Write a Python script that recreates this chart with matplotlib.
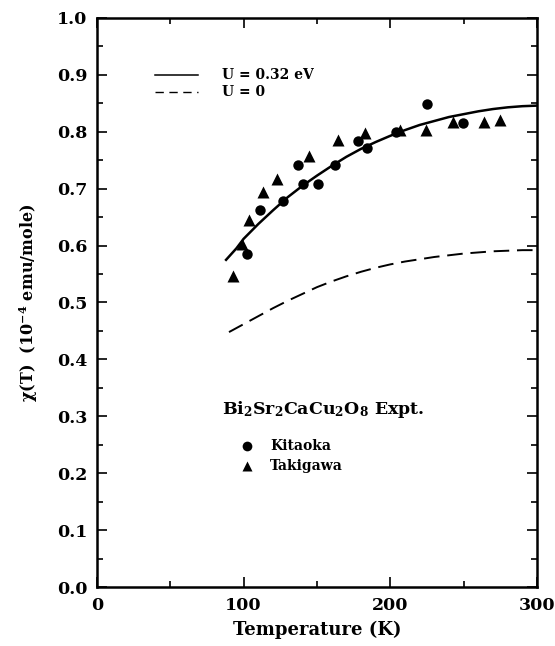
import matplotlib
matplotlib.use("Agg")
import matplotlib.pyplot as plt
from matplotlib.ticker import MultipleLocator

plt.rcParams["font.family"] = "DejaVu Serif"
plt.rcParams["font.weight"] = "bold"
plt.rcParams["axes.labelweight"] = "bold"
plt.rcParams["mathtext.fontset"] = "custom"
plt.rcParams["mathtext.rm"] = "DejaVu Serif:bold"
plt.rcParams["mathtext.bf"] = "DejaVu Serif:bold"
plt.rcParams["mathtext.default"] = "rm"

# U = 0.32 eV calculation
u032_t = [88, 95, 100, 110, 120, 130, 140, 150, 160, 170, 180, 190, 200,
          210, 220, 230, 240, 250, 260, 270, 280, 290, 300]
u032_chi = [0.575, 0.595, 0.612, 0.638, 0.662, 0.685, 0.705, 0.723, 0.740,
            0.756, 0.770, 0.782, 0.793, 0.803, 0.812, 0.819, 0.826, 0.831,
            0.836, 0.840, 0.843, 0.845, 0.846]

# U = 0 calculation
u0_t = [90, 100, 110, 120, 130, 140, 150, 160, 170, 180, 190, 200, 210,
        220, 230, 240, 250, 260, 270, 280, 290, 300]
u0_chi = [0.448, 0.462, 0.476, 0.490, 0.503, 0.515, 0.527, 0.537, 0.546,
          0.554, 0.561, 0.567, 0.572, 0.576, 0.580, 0.583, 0.586, 0.588,
          0.590, 0.591, 0.592, 0.592]

# experiment
kitaoka_t = [102.5, 111, 127, 137, 140.5, 151, 162, 178, 184, 204, 225, 249.5]
kitaoka_chi = [0.585, 0.663, 0.679, 0.741, 0.709, 0.709, 0.741, 0.783,
               0.771, 0.800, 0.848, 0.815]

takigawa_t = [92.5, 98.6, 103.9, 113.4, 123, 144.5, 164, 183, 206.6, 224,
              243, 264, 275]
takigawa_chi = [0.547, 0.603, 0.645, 0.694, 0.717, 0.757, 0.785, 0.798,
                0.803, 0.804, 0.817, 0.817, 0.820]

fig = plt.figure(figsize=(5.55, 6.46), dpi=100)
ax = fig.add_axes([97 / 555, 1 - 587 / 646, 440 / 555, 569 / 646])

ax.plot(u032_t, u032_chi, color="black", lw=1.8)
ax.plot(u0_t, u0_chi, color="black", lw=1.4, dashes=(8, 4))
ax.plot(kitaoka_t, kitaoka_chi, "o", color="black", ms=7.5, mec="none")
ax.plot(takigawa_t, takigawa_chi, "^", color="black", ms=8, mec="none")

# legend drawn inside the axes
ax.plot([39.5, 69], [0.90, 0.90], color="black", lw=1.1)
ax.plot([39.5, 69], [0.87, 0.87], color="black", lw=1.0, dashes=(6, 4))
ax.text(85, 0.90, "U = 0.32 eV", fontsize=10, va="center")
ax.text(85, 0.87, "U = 0", fontsize=10, va="center")

ax.text(85, 0.312, r"Bi$_2$Sr$_2$CaCu$_2$O$_8$ Expt.", fontsize=12.5, va="center")
ax.plot([102], [0.247], "o", color="black", ms=7, mec="none")
ax.plot([102], [0.212], "^", color="black", ms=7.5, mec="none")
ax.text(118, 0.247, "Kitaoka", fontsize=10, va="center")
ax.text(118, 0.212, "Takigawa", fontsize=10, va="center")

ax.set_xlim(0, 300)
ax.set_ylim(0.0, 1.0)
ax.xaxis.set_major_locator(MultipleLocator(100))
ax.xaxis.set_minor_locator(MultipleLocator(50))
ax.yaxis.set_major_locator(MultipleLocator(0.1))
ax.yaxis.set_minor_locator(MultipleLocator(0.05))
ax.yaxis.set_major_formatter(plt.FormatStrFormatter("%.1f"))
ax.tick_params(which="both", direction="in", top=True, right=True, width=1.2,
               labelsize=12.5)
ax.tick_params(axis="x", pad=7)
ax.tick_params(axis="y", pad=7)
ax.tick_params(which="major", length=7)
ax.tick_params(which="minor", length=4)
for s in ax.spines.values():
    s.set_linewidth(1.8)

ax.set_xlabel("Temperature (K)", fontsize=13, labelpad=5)
ax.set_ylabel("\u03c7(T)  (10$^{-4}$ emu/mole)", fontsize=11.5, labelpad=12)

fig.savefig("out.png", dpi=100)
